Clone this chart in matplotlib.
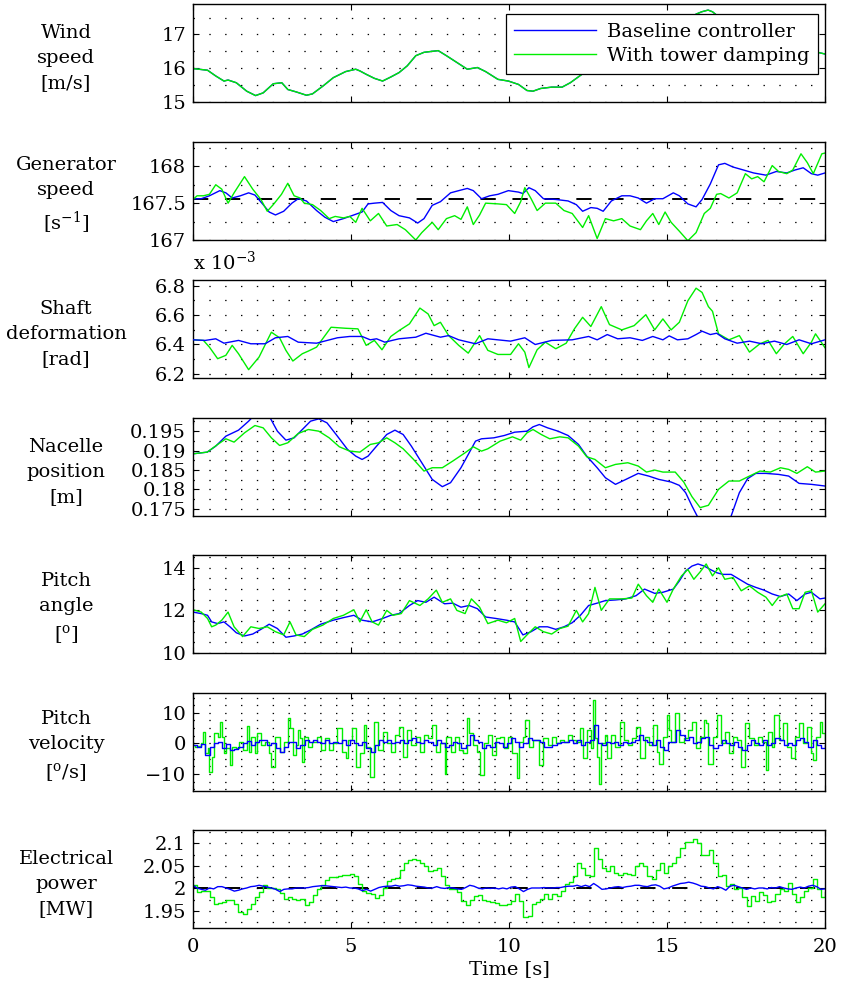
import numpy as np
import matplotlib
matplotlib.use("Agg")
import matplotlib.pyplot as plt
from matplotlib.ticker import MultipleLocator, FixedLocator, FuncFormatter
from matplotlib.lines import Line2D

plt.rcParams['font.family'] = ['DejaVu Serif']
plt.rcParams['mathtext.fontset'] = 'dejavuserif'
plt.rcParams['font.size'] = 14
plt.rcParams['lines.scale_dashes'] = False

# ---------------------------------------------------------------- data
# Wind speed [m/s] (same wind field for both controllers)
wind_t = [0, 0.46, 0.72, 0.98, 1.11, 1.37, 1.70, 1.98, 2.22, 2.54,
          2.81, 3.00, 3.26, 3.59, 3.78, 4.11, 4.44, 4.83, 5.15, 5.28,
          5.48, 5.74, 6.00, 6.26, 6.52, 6.78, 7.05, 7.31, 7.57, 7.76,
          8.02, 8.35, 8.68, 9.00, 9.26, 9.65, 9.98, 10.30, 10.57, 10.76,
          11.00, 11.35, 11.68, 11.94, 12.5, 13.0, 13.5, 14.0, 14.5, 15.0,
          15.5, 15.92, 16.1, 16.3, 16.44, 16.57, 17.0, 17.5, 18.0, 18.5,
          19.0, 19.57, 19.77, 20.0]
wind = [15.99, 15.94, 15.77, 15.62, 15.65, 15.57, 15.32, 15.19, 15.27, 15.54,
        15.57, 15.37, 15.30, 15.20, 15.24, 15.47, 15.72, 15.90, 15.97, 15.92,
        15.82, 15.70, 15.62, 15.74, 15.87, 16.07, 16.37, 16.47, 16.50, 16.52,
        16.37, 16.17, 15.97, 16.02, 15.90, 15.67, 15.62, 15.52, 15.34, 15.32,
        15.40, 15.44, 15.44, 15.57, 15.95, 16.3, 16.6, 16.85, 16.9, 17.05,
        17.3, 17.6, 17.67, 17.72, 17.67, 17.57, 17.3, 17.0, 16.85, 16.7,
        16.6, 16.54, 16.47, 16.42]

# Generator speed [1/s]
gen_ref = 167.55
gen_t_base = [0, 0.26, 0.52, 0.85, 1.04, 1.24, 1.50, 1.76, 1.96, 2.22,
              2.41, 2.61, 2.87, 3.13, 3.33, 3.59, 3.91, 4.17, 4.44, 4.76,
              5.09, 5.35, 5.54, 5.74, 6.00, 6.26, 6.52, 6.85, 7.11, 7.31,
              7.57, 7.83, 8.15, 8.41, 8.68, 8.87, 9.13, 9.39, 9.65, 9.98,
              10.30, 10.44, 10.63, 10.83, 11.09, 11.48, 11.87, 12.13, 12.33, 12.59,
              12.79, 12.98, 13.24, 13.57, 13.83, 14.09, 14.35, 14.61, 14.87, 15.20,
              15.39, 15.66, 15.92, 16.11, 16.37, 16.63, 16.83, 17.09, 17.42, 17.74,
              18.13, 18.46, 18.79, 19.05, 19.31, 19.57, 19.77, 20.0]
gen_base = [167.56, 167.56, 167.60, 167.67, 167.64, 167.57, 167.60, 167.64, 167.61, 167.48,
            167.38, 167.34, 167.39, 167.50, 167.56, 167.53, 167.40, 167.31, 167.25, 167.29,
            167.34, 167.38, 167.49, 167.50, 167.51, 167.40, 167.33, 167.30, 167.23, 167.29,
            167.47, 167.52, 167.64, 167.67, 167.70, 167.67, 167.56, 167.60, 167.62, 167.67,
            167.65, 167.63, 167.71, 167.67, 167.56, 167.55, 167.53, 167.48, 167.39, 167.44,
            167.43, 167.39, 167.53, 167.60, 167.60, 167.57, 167.50, 167.56, 167.56, 167.64,
            167.60, 167.49, 167.45, 167.55, 167.76, 168.02, 168.04, 167.99, 167.95, 167.91,
            167.88, 167.93, 167.91, 167.95, 167.98, 167.90, 167.88, 167.91]
gen_t_damp = [0, 0.13, 0.33, 0.52, 0.72, 0.91, 1.11, 1.30, 1.63, 1.89,
              2.15, 2.35, 2.54, 2.80, 3.00, 3.20, 3.39, 3.52, 3.78, 4.04,
              4.31, 4.50, 4.76, 4.96, 5.15, 5.35, 5.61, 5.87, 6.13, 6.46,
              6.72, 7.05, 7.24, 7.57, 7.76, 8.02, 8.28, 8.48, 8.68, 8.87,
              9.07, 9.26, 9.65, 9.92, 10.18, 10.37, 10.50, 10.70, 10.89, 11.15,
              11.48, 11.74, 12.00, 12.33, 12.52, 12.79, 13.05, 13.31, 13.57, 13.83,
              14.16, 14.35, 14.55, 14.74, 14.94, 15.13, 15.39, 15.66, 15.92, 16.18,
              16.37, 16.57, 16.70, 16.96, 17.22, 17.48, 17.68, 17.87, 18.07, 18.33,
              18.53, 18.79, 18.98, 19.24, 19.44, 19.63, 19.90, 20.0]
gen_damp = [167.55, 167.60, 167.60, 167.62, 167.75, 167.69, 167.50, 167.64, 167.86, 167.69,
            167.55, 167.39, 167.48, 167.62, 167.77, 167.60, 167.57, 167.50, 167.48, 167.40,
            167.29, 167.32, 167.30, 167.32, 167.24, 167.43, 167.26, 167.36, 167.19, 167.21,
            167.14, 167.00, 167.10, 167.24, 167.14, 167.29, 167.33, 167.28, 167.45, 167.21,
            167.34, 167.50, 167.49, 167.48, 167.36, 167.52, 167.71, 167.56, 167.40, 167.50,
            167.50, 167.40, 167.36, 167.17, 167.33, 167.02, 167.29, 167.26, 167.29, 167.19,
            167.14, 167.26, 167.36, 167.21, 167.38, 167.24, 167.12, 166.99, 167.10, 167.36,
            167.43, 167.62, 167.63, 167.57, 167.64, 167.90, 167.83, 167.86, 167.79, 168.01,
            167.93, 167.90, 167.95, 168.17, 168.05, 167.90, 168.17, 168.18]

# Shaft deformation [1e-3 rad]
shaft_t_base = [0, 0.39, 0.72, 0.98, 1.44, 1.83, 2.28, 2.61, 3.00, 3.33,
                3.91, 4.57, 4.96, 5.35, 5.61, 5.81, 6.07, 6.52, 7.05, 7.37,
                7.83, 8.09, 8.41, 8.94, 9.33, 10.05, 10.50, 10.83, 11.35, 12.00,
                12.52, 12.79, 13.11, 13.44, 13.83, 14.22, 14.55, 14.87, 15.07, 15.33,
                15.66, 15.92, 16.11, 16.37, 16.57, 16.83, 17.22, 17.61, 18.00, 18.40,
                18.79, 19.18, 19.57, 20.0]
shaft_base = [6.431, 6.427, 6.438, 6.408, 6.427, 6.404, 6.404, 6.445, 6.454, 6.415,
              6.408, 6.445, 6.454, 6.454, 6.431, 6.438, 6.415, 6.438, 6.449, 6.476,
              6.449, 6.460, 6.431, 6.404, 6.438, 6.422, 6.445, 6.399, 6.427, 6.431,
              6.454, 6.431, 6.467, 6.438, 6.445, 6.427, 6.454, 6.431, 6.458, 6.431,
              6.438, 6.467, 6.490, 6.467, 6.476, 6.438, 6.408, 6.422, 6.404, 6.422,
              6.399, 6.431, 6.404, 6.431]
shaft_t_damp = [0, 0.33, 0.52, 0.78, 1.04, 1.24, 1.44, 1.76, 2.09, 2.48,
                2.74, 2.94, 3.16, 3.46, 3.65, 3.91, 4.37, 4.83, 5.22, 5.48,
                5.74, 5.98, 6.26, 6.52, 6.85, 7.18, 7.44, 7.63, 7.83, 8.09,
                8.41, 8.71, 9.07, 9.33, 9.65, 10.05, 10.30, 10.50, 10.63, 10.89,
                11.15, 11.48, 11.81, 12.07, 12.33, 12.59, 12.92, 13.18, 13.57, 13.96,
                14.33, 14.61, 14.87, 15.13, 15.39, 15.66, 15.92, 16.11, 16.31, 16.44,
                16.63, 16.96, 17.29, 17.61, 17.94, 18.20, 18.46, 18.72, 18.98, 19.31,
                19.57, 19.70, 20.0]
shaft_damp = [6.431, 6.427, 6.381, 6.302, 6.325, 6.393, 6.336, 6.227, 6.313, 6.483,
              6.445, 6.359, 6.286, 6.336, 6.354, 6.381, 6.517, 6.510, 6.506, 6.393,
              6.427, 6.363, 6.454, 6.494, 6.540, 6.648, 6.608, 6.528, 6.551, 6.460,
              6.393, 6.340, 6.460, 6.359, 6.331, 6.331, 6.404, 6.347, 6.241, 6.363,
              6.415, 6.370, 6.408, 6.506, 6.585, 6.522, 6.658, 6.535, 6.499, 6.528,
              6.603, 6.499, 6.574, 6.499, 6.551, 6.698, 6.784, 6.755, 6.658, 6.626,
              6.472, 6.431, 6.460, 6.347, 6.404, 6.427, 6.336, 6.404, 6.454, 6.336,
              6.415, 6.472, 6.377]

# Nacelle position [m]
nac_t_base = [0, 0.45, 0.72, 1.04, 1.44, 1.76, 1.96, 2.15, 2.41, 2.67,
              2.94, 3.20, 3.46, 3.72, 3.98, 4.24, 4.57, 4.89, 5.15, 5.35,
              5.54, 5.81, 6.13, 6.39, 6.65, 6.91, 7.24, 7.57, 7.89, 8.15,
              8.48, 8.74, 8.94, 9.13, 9.52, 9.85, 10.18, 10.57, 10.76, 10.96,
              11.22, 11.55, 11.87, 12.20, 12.46, 12.79, 13.05, 13.37, 13.70, 14.09,
              14.42, 14.74, 15.13, 15.39, 15.59, 15.79, 15.98, 16.30, 16.70, 17.03,
              17.29, 17.55, 17.81, 18.13, 18.53, 18.85, 19.18, 19.57, 20.0]
nac_base = [0.18916, 0.18959, 0.19114, 0.19371, 0.19526, 0.19758, 0.1993, 0.1997, 0.1989, 0.1950,
            0.19268, 0.19328, 0.19543, 0.19758, 0.19818, 0.19715, 0.19371, 0.19028, 0.18856, 0.1877,
            0.18856, 0.19114, 0.19414, 0.19526, 0.19414, 0.19114, 0.18685, 0.18255, 0.18067, 0.1817,
            0.18556, 0.18942, 0.19243, 0.19303, 0.19328, 0.19388, 0.19474, 0.1950, 0.19612, 0.19672,
            0.19586, 0.1950, 0.19388, 0.19157, 0.18856, 0.18556, 0.18298, 0.18127, 0.18255, 0.1841,
            0.18341, 0.18255, 0.18187, 0.18101, 0.17912, 0.17569, 0.1727, 0.1690, 0.1690, 0.1731,
            0.17912, 0.18273, 0.1841, 0.1841, 0.18384, 0.18341, 0.18152, 0.18127, 0.18084]
nac_t_damp = [0, 0.45, 0.78, 1.04, 1.30, 1.63, 1.96, 2.22, 2.48, 2.74,
              3.00, 3.33, 3.65, 3.98, 4.31, 4.63, 4.96, 5.28, 5.61, 5.87,
              6.13, 6.39, 6.65, 6.98, 7.31, 7.57, 7.89, 8.22, 8.61, 8.87,
              9.13, 9.33, 9.72, 10.11, 10.37, 10.57, 10.76, 11.02, 11.29, 11.61,
              11.87, 12.20, 12.46, 12.72, 13.05, 13.37, 13.76, 14.09, 14.35, 14.61,
              14.87, 15.26, 15.53, 15.79, 16.05, 16.31, 16.63, 16.96, 17.29, 17.61,
              17.94, 18.27, 18.59, 18.85, 19.11, 19.44, 19.70, 20.0]
nac_damp = [0.18916, 0.18959, 0.19157, 0.19303, 0.19217, 0.19457, 0.19646, 0.19586, 0.19328, 0.19131,
            0.1920, 0.1944, 0.19543, 0.1950, 0.19328, 0.19097, 0.18985, 0.18959, 0.19157, 0.1920,
            0.19328, 0.1920, 0.19045, 0.1877, 0.1847, 0.18556, 0.18556, 0.18728, 0.18942, 0.19097,
            0.18985, 0.19045, 0.19243, 0.19354, 0.19268, 0.19457, 0.19543, 0.19414, 0.19303, 0.19354,
            0.19328, 0.19114, 0.18839, 0.1877, 0.18556, 0.18642, 0.18685, 0.18599, 0.18444, 0.18496,
            0.18444, 0.18444, 0.18187, 0.17809, 0.17526, 0.17586, 0.17998, 0.18213, 0.18213, 0.18341,
            0.1847, 0.18444, 0.18556, 0.18513, 0.1841, 0.18582, 0.18444, 0.1847]

# Pitch angle [deg]
pitch_t_base = [0, 0.26, 0.46, 0.59, 0.78, 0.98, 1.17, 1.37, 1.63, 1.89,
                2.15, 2.41, 2.67, 2.94, 3.20, 3.46, 3.72, 4.04, 4.44, 4.76,
                5.09, 5.35, 5.67, 6.00, 6.26, 6.52, 6.85, 7.11, 7.37, 7.63,
                7.96, 8.22, 8.48, 8.74, 9.00, 9.26, 9.59, 9.92, 10.18, 10.44,
                10.70, 10.96, 11.22, 11.48, 11.74, 12.00, 12.26, 12.52, 12.79, 13.05,
                13.37, 13.70, 14.02, 14.29, 14.61, 14.87, 15.20, 15.39, 15.59, 15.79,
                15.98, 16.18, 16.37, 16.57, 16.77, 17.03, 17.29, 17.55, 17.81, 18.07,
                18.33, 18.59, 18.85, 19.11, 19.37, 19.57, 19.84, 20.0]
pitch_base = [11.92, 11.85, 11.77, 11.46, 11.38, 11.46, 11.23, 10.95, 10.80, 10.89,
              11.11, 11.35, 11.15, 10.74, 10.80, 10.89, 11.08, 11.35, 11.54, 11.66,
              11.77, 11.54, 11.46, 11.62, 11.77, 11.85, 12.23, 12.46, 12.38, 12.62,
              12.31, 12.34, 12.15, 12.23, 12.08, 11.69, 11.62, 11.54, 11.46, 10.85,
              11.00, 11.23, 11.23, 11.11, 11.23, 11.42, 11.77, 12.23, 12.34, 12.46,
              12.49, 12.54, 12.69, 13.00, 12.80, 12.85, 13.00, 13.38, 13.85, 14.08,
              14.18, 14.08, 13.92, 13.77, 13.69, 13.69, 13.46, 13.23, 13.08, 12.95,
              12.77, 12.65, 12.77, 12.46, 12.77, 12.85, 12.54, 12.58]
pitch_t_damp = [0, 0.26, 0.46, 0.59, 0.72, 0.91, 1.11, 1.30, 1.57, 1.83,
                2.09, 2.35, 2.61, 2.87, 3.07, 3.26, 3.52, 3.78, 4.11, 4.44,
                4.76, 5.09, 5.28, 5.48, 5.67, 5.87, 6.13, 6.33, 6.59, 6.85,
                7.18, 7.44, 7.70, 7.89, 8.15, 8.35, 8.61, 8.81, 9.07, 9.33,
                9.65, 9.92, 10.18, 10.37, 10.57, 10.83, 11.09, 11.35, 11.61, 11.87,
                12.13, 12.33, 12.52, 12.72, 12.92, 13.18, 13.57, 13.89, 14.09, 14.35,
                14.55, 14.74, 15.00, 15.20, 15.46, 15.66, 15.85, 16.05, 16.24, 16.44,
                16.63, 16.83, 17.09, 17.35, 17.61, 17.87, 18.13, 18.33, 18.53, 18.79,
                18.98, 19.18, 19.37, 19.57, 19.77, 20.0]
pitch_damp = [12.03, 11.92, 11.62, 11.23, 11.31, 11.54, 11.92, 11.23, 10.77, 11.23,
              11.15, 11.23, 11.00, 10.85, 11.46, 10.85, 10.77, 11.11, 11.31, 11.62,
              11.77, 12.03, 11.46, 12.03, 11.46, 11.31, 12.00, 11.77, 11.85, 12.46,
              12.23, 12.54, 12.95, 12.38, 12.54, 12.00, 11.85, 12.54, 12.15, 11.38,
              11.54, 11.42, 11.62, 10.54, 10.85, 11.23, 11.00, 10.89, 11.15, 11.26,
              12.00, 11.46, 11.85, 13.08, 12.00, 12.54, 12.54, 12.58, 13.23, 12.69,
              12.38, 13.00, 12.38, 13.00, 13.62, 13.92, 13.46, 13.81, 14.18, 13.62,
              14.00, 13.46, 13.54, 12.92, 13.15, 12.85, 12.62, 12.23, 12.62, 12.77,
              12.08, 12.08, 12.85, 12.92, 11.92, 12.31]

# Pitch velocity [deg/s]
pv_base = [-0.5, -1.1, -0.2, -3.8, -1.1, 0.0, 0.5, -1.6, -0.2, -2.2,
           -2.0, -1.1, 0.0, 0.9, -0.5, 0.5, 1.1, 1.1, -0.5, 0.0,
           -1.6, -2.7, -1.1, 0.5, 0.5, -1.6, -0.5, 1.1, 0.5, 1.1,
           0.5, 0.0, 1.1, 0.0, 0.5, 0.0, 1.1, -0.5, 1.1, 0.0,
           -0.5, 0.5, -1.6, -2.7, -0.5, 1.1, 0.5, 1.1, 0.0, 0.5,
           1.1, 0.0, 1.1, 1.6, 0.5, 0.0, 1.1, 0.5, -0.5, 1.1,
           0.0, -1.1, -0.5, 0.5, 0.0, -1.6, -0.5, 2.7, 1.1, 0.5,
           -1.6, -0.5, -1.1, 0.5, 0.0, -1.1, 0.0, 1.6, 0.5, -1.1,
           0.0, 1.6, 1.1, 1.1, 0.5, -1.1, -1.1, -0.5, 0.0, 0.5,
           0.5, 1.1, 0.0, 1.1, -0.5, 0.5, 1.1, 6.0, 0.0, -0.5,
           0.5, 0.0, 0.5, -0.5, 0.5, 0.0, 0.5, 1.1, 2.7, 1.1,
           0.5, -0.5, 1.1, -1.1, -2.2, 0.5, 0.5, 4.4, 2.7, 1.1,
           2.2, 0.0, 0.5, 1.6, 2.2, -0.5, -1.6, -0.5, 1.1, 0.0,
           -0.5, 0.5, -1.1, -2.2, -0.5, 1.1, 0.0, -0.5, 1.1, -0.5,
           0.0, 1.6, 1.1, -0.5, 0.0, -0.5, 1.1, 1.6, 0.5, -1.1,
           1.1, -0.5, -1.6, -0.5]
pv_t_base = np.linspace(0, 20, len(pv_base))
pv_t_damp = [0.00, 0.07, 0.13, 0.26, 0.33, 0.39, 0.46, 0.52, 0.59, 0.65,
             0.78, 0.85, 0.91, 0.98, 1.04, 1.17, 1.24, 1.37, 1.44, 1.57,
             1.70, 1.76, 1.83, 1.96, 2.02, 2.15, 2.28, 2.41, 2.48, 2.61,
             2.74, 2.87, 3.00, 3.07, 3.16, 3.26, 3.33, 3.39, 3.46, 3.52,
             3.65, 3.78, 3.91, 4.04, 4.17, 4.31, 4.44, 4.57, 4.70, 4.83,
             4.89, 5.02, 5.15, 5.28, 5.41, 5.48, 5.61, 5.74, 5.87, 6.00,
             6.13, 6.26, 6.39, 6.52, 6.65, 6.78, 6.91, 7.05, 7.18, 7.31,
             7.44, 7.57, 7.70, 7.83, 7.96, 8.02, 8.15, 8.28, 8.41, 8.55,
             8.68, 8.74, 8.87, 9.00, 9.07, 9.20, 9.33, 9.46, 9.59, 9.72,
             9.85, 9.98, 10.11, 10.24, 10.31, 10.44, 10.50, 10.63, 10.76, 10.89,
             10.96, 11.09, 11.22, 11.35, 11.48, 11.61, 11.74, 11.87, 12.00, 12.13,
             12.26, 12.33, 12.46, 12.59, 12.65, 12.72, 12.79, 12.85, 12.92, 13.05,
             13.11, 13.24, 13.37, 13.50, 13.63, 13.76, 13.89, 14.02, 14.16, 14.29,
             14.42, 14.55, 14.68, 14.74, 14.87, 15.00, 15.07, 15.13, 15.26, 15.39,
             15.53, 15.66, 15.79, 15.92, 16.05, 16.18, 16.24, 16.31, 16.44, 16.57,
             16.70, 16.83, 16.96, 17.09, 17.22, 17.35, 17.48, 17.61, 17.74, 17.87,
             18.00, 18.13, 18.20, 18.33, 18.40, 18.53, 18.66, 18.79, 18.92, 19.05,
             19.18, 19.31, 19.44, 19.57, 19.63, 19.70, 19.83, 19.90, 20.00]
pv_damp = [-0.5, -1.1, -0.9, 0.0, 3.8, -3.3, -1.6, -9.3, -4.4, 3.3,
           2.2, 6.9, 2.2, -3.3, -1.6, -7.1, -1.1, -1.6, 0.5, -2.2,
           5.7, -2.7, 2.2, -3.3, 3.3, -0.5, 0.5, -3.3, -7.7, 2.2,
           -2.7, 0.5, 8.2, 4.9, -3.8, -0.5, 4.4, 1.6, -6.0, 2.2,
           -1.1, 0.5, 2.2, -2.2, 1.6, -2.2, 0.0, 4.9, -2.7, -4.9,
           1.1, 4.9, -7.7, -3.3, 6.0, -1.1, -11.0, 7.1, -2.2, 3.8,
           0.0, -2.7, 2.7, 5.5, -4.4, 4.4, -0.5, 2.2, -2.7, 2.7,
           1.6, 6.0, -2.7, 0.0, -9.9, 2.2, -2.7, 2.2, -2.2, -3.3,
           8.2, 3.3, -0.5, -2.7, -10.4, 0.0, 2.7, -3.8, 1.6, 2.2,
           -1.6, 2.2, -3.3, -11.5, 0.5, 2.2, 7.7, -1.1, 1.1, 1.1,
           -7.1, 1.6, -0.5, 2.2, 0.0, 1.1, 0.5, 2.7, 1.1, 0.5,
           4.9, -4.9, 4.4, -1.6, 14.1, 1.6, -4.4, -13.2, 0.0, 2.7,
           -4.9, 2.7, -1.1, 7.1, 1.1, -0.5, 1.6, 5.5, -4.9, 2.2,
           -0.5, 6.0, -2.7, -6.6, 2.2, 9.3, 4.4, 0.5, 9.9, 0.5,
           1.6, 4.4, 7.1, -1.6, 2.2, 7.7, 6.6, -6.6, 2.2, 9.3,
           0.0, 3.8, -3.3, 2.2, 1.1, -7.7, 6.6, 1.6, -0.5, 2.2,
           0.5, -8.8, 3.8, -1.1, 9.3, 1.1, 6.6, -1.1, -4.9, 2.2,
           6.6, 0.0, 5.5, -3.3, -5.5, 2.2, 7.1, 3.3, 1.1]

# Electrical power [MW]
power_ref = 2.0
power_base = [2.007, 2.001, 1.998, 1.996, 2.001, 1.999, 2.004, 2.004, 2.001, 1.998,
              1.994, 1.996, 1.999, 2.001, 2.004, 2.005, 2.007, 2.005, 2.003, 2.001,
              1.998, 1.993, 1.998, 1.999, 1.999, 2.001, 2.001, 2.001, 2.002, 2.004,
              2.005, 2.006, 2.006, 2.005, 2.004, 2.003, 2.002, 2.003, 2.001, 2.001,
              1.999, 1.995, 1.998, 1.994, 1.998, 2.002, 2.004, 2.005, 2.005, 2.007,
              2.005, 2.006, 2.008, 2.007, 2.005, 2.004, 2.003, 2.001, 2.001, 2.004,
              2.001, 2.000, 2.002, 2.001, 1.999, 1.998, 2.002, 2.007, 2.005, 2.001,
              1.999, 2.001, 2.000, 2.001, 1.999, 2.001, 1.999, 2.003, 2.004, 1.999,
              1.993, 1.998, 2.001, 2.001, 2.001, 2.002, 2.001, 2.001, 2.002, 2.002,
              2.004, 2.005, 2.005, 2.007, 2.004, 2.007, 2.004, 2.011, 2.005, 1.998,
              1.999, 2.001, 2.003, 2.004, 2.002, 2.004, 2.005, 2.007, 2.007, 2.005,
              2.004, 2.007, 2.008, 2.005, 1.999, 2.001, 2.005, 2.008, 2.011, 2.012,
              2.014, 2.012, 2.009, 2.005, 2.004, 2.001, 1.999, 2.004, 2.001, 1.996,
              2.005, 2.007, 2.004, 2.001, 1.998, 2.001, 1.999, 2.001, 2.001, 1.999,
              2.002, 2.001, 2.004, 2.001, 1.999, 1.998, 2.001, 2.003, 2.001, 2.005,
              2.007, 2.004, 1.998, 1.999]
power_damp = [2.007, 1.992, 1.995, 1.995, 1.980, 1.965, 1.968, 1.970, 1.975, 1.975,
              1.966, 1.948, 1.944, 1.955, 1.965, 1.980, 1.993, 2.007, 2.002, 2.000,
              1.999, 1.990, 1.977, 1.980, 1.976, 1.974, 1.976, 1.963, 1.969, 1.985,
              1.998, 2.007, 2.018, 2.025, 2.026, 2.028, 2.031, 2.031, 2.033, 2.027,
              2.009, 1.994, 1.990, 1.987, 1.978, 1.986, 2.001, 2.016, 2.020, 2.023,
              2.040, 2.056, 2.064, 2.066, 2.063, 2.057, 2.049, 2.038, 2.042, 2.046,
              2.028, 2.008, 1.998, 1.998, 1.993, 1.971, 1.964, 1.974, 1.983, 1.985,
              1.974, 1.972, 1.970, 1.967, 1.963, 1.963, 1.965, 1.972, 1.987, 1.972,
              1.936, 1.939, 1.965, 1.970, 1.976, 1.987, 1.976, 1.987, 1.983, 1.994,
              2.009, 2.014, 2.027, 2.056, 2.045, 2.031, 2.027, 2.089, 2.065, 2.045,
              2.038, 2.049, 2.034, 2.031, 2.034, 2.033, 2.031, 2.049, 2.056, 2.049,
              2.027, 2.020, 2.042, 2.056, 2.034, 2.049, 2.056, 2.071, 2.089, 2.104,
              2.104, 2.111, 2.100, 2.075, 2.075, 2.086, 2.056, 2.027, 2.031, 2.005,
              2.009, 1.998, 2.002, 1.980, 1.961, 1.983, 1.972, 1.991, 1.985, 1.969,
              1.972, 1.987, 1.998, 1.994, 2.012, 1.987, 1.969, 1.980, 1.994, 2.002,
              2.020, 1.998, 1.980, 1.991]
power_t = np.linspace(0, 20, len(power_damp))

x_ticks = [0, 5, 10, 15, 20]
y_labels = ['Wind\nspeed\n[m/s]',
            'Generator\nspeed\n[s$^{-1}$]',
            'Shaft\ndeformation\n[rad]',
            'Nacelle\nposition\n[m]',
            'Pitch\nangle\n[$^\\mathrm{o}$]',
            'Pitch\nvelocity\n[$^\\mathrm{o}$/s]',
            'Electrical\npower\n[MW]']
y_ticks = [[15, 16, 17],
           [167, 167.5, 168],
           [6.2, 6.4, 6.6, 6.8],
           [0.175, 0.18, 0.185, 0.19, 0.195],
           [10, 12, 14],
           [-10, 0, 10],
           [1.95, 2, 2.05, 2.1]]
y_grid_step = [0.5, 0.25, 0.1, 0.0025, 0.5, 2.5, 0.025]
y_limits = [(15, 17.9), (167, 168.33), (6.17, 6.84), (0.1731, 0.1984),
            (10, 14.6), (-15.6, 16.5), (1.912, 2.13)]
legend_labels = ['Baseline controller', 'With tower damping']

# ---------------------------------------------------------------- figure
W, H = 841, 992
fig = plt.figure(figsize=(W / 100, H / 100), dpi=100)
ax_left, ax_right = 193, 825
panel_tops = [4, 142, 280, 418, 555, 693, 830]
panel_h = 98

BLUE = '#0000ff'
GREEN = '#00ee00'
LW = 1.0


def fmt(v, pos):
    return ('%g' % v).replace('-', '\u2212')


axes = []
for i, top in enumerate(panel_tops):
    ax = fig.add_axes([ax_left / W, 1 - (top + panel_h) / H,
                       (ax_right - ax_left) / W, panel_h / H])
    ax.set_xlim(0, 20)
    ax.set_ylim(*y_limits[i])
    ax.xaxis.set_major_locator(FixedLocator(x_ticks))
    ax.yaxis.set_major_locator(FixedLocator(y_ticks[i]))
    ax.yaxis.set_minor_locator(MultipleLocator(y_grid_step[i]))
    ax.yaxis.set_major_formatter(FuncFormatter(fmt))
    ax.xaxis.set_major_formatter(FuncFormatter(fmt))
    ax.tick_params(which='major', direction='in', length=4, width=0.8,
                   top=True, right=True, labelsize=14, pad=5)
    ax.tick_params(which='minor', length=0)
    if i < len(panel_tops) - 1:
        ax.tick_params(labelbottom=False)
    for s in ax.spines.values():
        s.set_linewidth(1.0)
    ax.grid(axis='y', which='both', linestyle=(0, (1.0, 10.4)),
            linewidth=0.9, color='k')
    ax.set_axisbelow(True)
    fig.text(66 / W, 1 - (top + panel_h / 2 + 5) / H, y_labels[i],
             ha='center', va='center', multialignment='center',
             linespacing=1.5, fontsize=14)
    axes.append(ax)

ax1, ax2, ax3, ax4, ax5, ax6, ax7 = axes

ax1.plot(wind_t, wind, color=BLUE, lw=LW)
ax1.plot(wind_t, wind, color=GREEN, lw=LW)

ax2.axhline(gen_ref, color='k', lw=1.4, linestyle=(0, (11, 12)))
ax2.plot(gen_t_base, gen_base, color=BLUE, lw=LW)
ax2.plot(gen_t_damp, gen_damp, color=GREEN, lw=LW)

ax3.plot(shaft_t_base, shaft_base, color=BLUE, lw=LW, zorder=3)
ax3.plot(shaft_t_damp, shaft_damp, color=GREEN, lw=LW, zorder=2)

ax4.plot(nac_t_base, nac_base, color=BLUE, lw=LW)
ax4.plot(nac_t_damp, nac_damp, color=GREEN, lw=LW)

ax5.plot(pitch_t_base, pitch_base, color=BLUE, lw=LW)
ax5.plot(pitch_t_damp, pitch_damp, color=GREEN, lw=LW)

ax6.plot(pv_t_damp, pv_damp, color=GREEN, lw=LW, drawstyle='steps-post')
ax6.plot(pv_t_base, pv_base, color=BLUE, lw=LW, drawstyle='steps-post')

ax7.axhline(power_ref, color='k', lw=1.4, linestyle=(0, (11, 12)))
ax7.plot(power_t, power_damp, color=GREEN, lw=LW, drawstyle='steps-post')
ax7.plot(power_t, power_base, color=BLUE, lw=LW)

ax7.set_xlabel('Time [s]', fontsize=14, labelpad=3)
ax7.tick_params(axis='x', pad=7)

fig.text(ax_left / W, 1 - 262 / H, 'x 10$^{\\mathdefault{\u2212}3}$',
         ha='left', va='center', fontsize=14)

handles = [Line2D([], [], color=BLUE, lw=LW), Line2D([], [], color=GREEN, lw=LW)]
leg = ax1.legend(handles, legend_labels, loc='upper right',
                 bbox_to_anchor=(0.989, 0.895), borderaxespad=0,
                 handlelength=4.2, handletextpad=0.55, labelspacing=0.3,
                 borderpad=0.45, fancybox=False, framealpha=1,
                 edgecolor='k', fontsize=14)
leg.get_frame().set_linewidth(0.9)

fig.savefig('out.png', dpi=100)
